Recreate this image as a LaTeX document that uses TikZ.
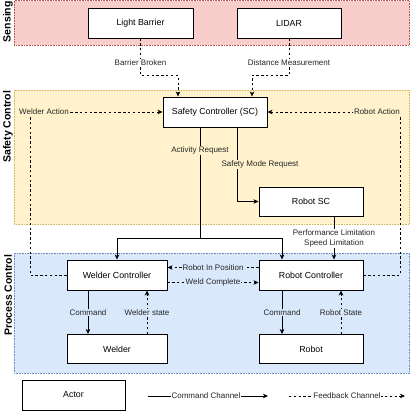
\documentclass[tikz,border=0pt]{standalone}
\usepackage{fontspec}
\setmainfont{Liberation Sans}
\usetikzlibrary{arrows.meta,calc}
\definecolor{redfill}{HTML}{F8CECC}
\definecolor{redline}{HTML}{B85450}
\definecolor{yellowfill}{HTML}{FFF2CC}
\definecolor{yellowline}{HTML}{D6B656}
\definecolor{bluefill}{HTML}{DAE8FC}
\definecolor{blueline}{HTML}{6C8EBF}
\begin{document}
\begin{tikzpicture}[x=1pt,y=-1pt,
  box/.style={draw, line width=0.9pt, fill=white, minimum width=104pt, minimum height=30pt, inner sep=0pt, font=\fontsize{8.8}{10}\selectfont},
  lbl/.style={font=\fontsize{8}{10}\selectfont, inner sep=0.8pt, text=black!85},
  tipstyle/.style={-{Stealth[length=5pt,width=4.5pt,inset=1.3pt]}},
  cmd/.style={draw, line width=0.75pt, tipstyle},
  fb/.style={draw, line width=0.75pt, dash pattern=on 2.4pt off 2.4pt, tipstyle},
  band/.style={line width=0.6pt, dash pattern=on 0.8pt off 0.8pt},
  bandlbl/.style={rotate=90, anchor=east, inner sep=0pt, font=\fontsize{10.5}{12}\selectfont\bfseries}
]
\useasboundingbox (0,0) rectangle (415,411);
% bands
\draw[band, fill=redfill, draw=redline] (14,0.6) rectangle (409.5,45);
\draw[band, fill=yellowfill, draw=yellowline] (14,90) rectangle (409.5,224);
\draw[band, fill=bluefill, draw=blueline] (14,253) rectangle (409.5,373);
\node[bandlbl] (sensingl) at (8,1) {Sensing};
\node[bandlbl] (safetyl) at (8,90.5) {Safety Control};
\node[bandlbl] (processl) at (8,254.5) {Process Control};
% boxes
\node[box, minimum width=105pt] (LB) at (140.5,23) {Light Barrier};
\node[box] (LIDAR) at (289,23) {LIDAR};
\node[box] (SC) at (215,112) {Safety Controller (SC)};
\node[box, minimum height=29pt] (RSC) at (311,201.5) {Robot SC};
\node[box, minimum width=100pt] (WC) at (117,275) {Welder Controller};
\node[box] (RC) at (311,275) {Robot Controller};
\node[box, minimum width=100pt, minimum height=29pt] (W) at (117,349) {Welder};
\node[box, minimum height=29pt] (R) at (311,349) {Robot};
\node[box, minimum width=103pt] (A) at (73.5,395) {Actor};
% sensing edges
\draw[fb] (LB.south) -- node[lbl, fill=white, pos=0.65]{Barrier Broken} ++(0,37) -| ([xshift=-37pt]SC.north);
\draw[fb] (LIDAR.south) -- node[lbl, fill=white, pos=0.65]{Distance Measurement} ++(0,37) -| ([xshift=37pt]SC.north);
% activity request
\draw[cmd] ([xshift=-15pt]SC.south) -- node[lbl, fill=yellowfill, pos=0.207]{Activity Request} ++(0,111) coordinate (split) -| (WC.north);
\draw[cmd] (split) -| ([xshift=-29pt]RC.north);
% safety mode
\draw[cmd] ([xshift=22pt]SC.south) |- node[lbl, fill=yellowfill, pos=0.25, xshift=23pt]{Safety Mode Request} (RSC.west);
% performance limitation
\draw[cmd] ([xshift=23pt]RSC.south) -- node[lbl, fill=white, align=center, pos=0.52]{Performance Limitation\\Speed Limitation} ([xshift=23pt]RC.north);
% welder / robot action
\draw[fb] (WC.west) -| (30,112) node[lbl, fill=yellowfill, anchor=west, xshift=-12pt]{Welder Action} -- (SC.west);
\draw[fb] (RC.east) -| (400,112) node[lbl, fill=yellowfill, anchor=east, xshift=1pt]{Robot Action} -- (SC.east);
% controllers
\draw[fb] ([yshift=7.5pt]RC.west) -- node[lbl, fill=bluefill]{Robot In Position} ([yshift=7.5pt]WC.east);
\draw[fb] ([yshift=-7.5pt]WC.east) -- node[lbl, fill=bluefill]{Weld Complete} ([yshift=-7.5pt]RC.west);
% commands and states
\draw[cmd] ([xshift=-29pt]WC.south) -- node[lbl, fill=bluefill]{Command} ([xshift=-29pt]W.north);
\draw[fb] ([xshift=30pt]W.north) -- node[lbl, fill=bluefill]{Welder state} ([xshift=30pt]WC.south);
\draw[cmd] ([xshift=-29pt]RC.south) -- node[lbl, fill=bluefill]{Command} ([xshift=-29pt]R.north);
\draw[fb] ([xshift=30pt]R.north) -- node[lbl, fill=bluefill]{Robot State} ([xshift=30pt]RC.south);
% legend
\coordinate (c1) at (148,396);
\coordinate (c2) at (268,396);
\coordinate (f1) at (289,396);
\coordinate (f2) at (405,396);
\draw[cmd] (c1) -- node[lbl, fill=white, xshift=-2pt]{Command Channel} (c2);
\draw[fb] (f1) -- node[lbl, fill=white]{Feedback Channel} (f2);
\end{tikzpicture}
\end{document}
